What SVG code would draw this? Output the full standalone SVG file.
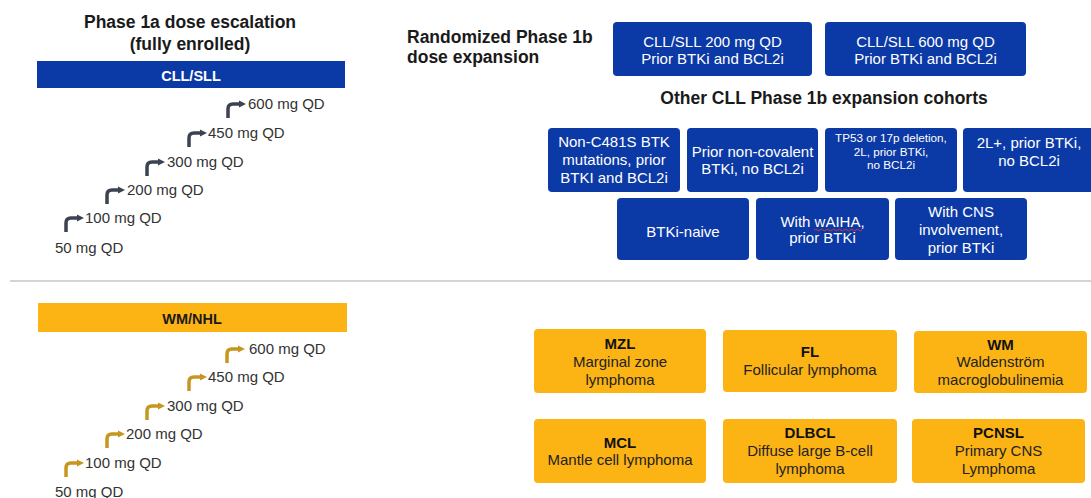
<svg xmlns="http://www.w3.org/2000/svg" width="1091" height="498" viewBox="0 0 1091 498">
<defs>
<marker id="ahd" markerUnits="userSpaceOnUse" markerWidth="8" markerHeight="8" refX="1" refY="4" orient="auto"><path d="M0,0.5 L7,4 L0,7.5 Z" fill="#3b4250"/></marker>
<marker id="ahy" markerUnits="userSpaceOnUse" markerWidth="8" markerHeight="8" refX="1" refY="4" orient="auto"><path d="M0,0.5 L7,4 L0,7.5 Z" fill="#c6961f"/></marker>
</defs>
<style>
text{font-family:"Liberation Sans",Arial,sans-serif;}
.h{font-size:17.5px;font-weight:bold;fill:#1a1a1a;}
.bar{font-size:14.5px;font-weight:bold;text-anchor:middle;}
.dose{font-size:15px;fill:#333;}
.blue{fill:#0b39a6;}
.yel{fill:#fcb314;}
.wt{font-size:15px;fill:#fff;text-anchor:middle;}
.wts{font-size:11.7px;fill:#fff;text-anchor:middle;}
.yt{font-size:15px;fill:#222;text-anchor:middle;}
.yb{font-size:15px;font-weight:bold;fill:#111;text-anchor:middle;}
.ad{fill:none;stroke:#3b4250;stroke-width:3.5;marker-end:url(#ahd);}
.ay{fill:none;stroke:#c6961f;stroke-width:3.5;marker-end:url(#ahy);}
</style>
<rect width="1091" height="498" fill="#fff"/>

<g id="titles">
<text class="h" x="190" y="28" text-anchor="middle">Phase 1a dose escalation</text>
<text class="h" x="190" y="50" text-anchor="middle">(fully enrolled)</text>
<text class="h" x="407" y="43">Randomized Phase 1b</text>
<text class="h" x="407" y="63">dose expansion</text>
<text class="h" x="824" y="104" text-anchor="middle">Other CLL Phase 1b expansion cohorts</text>
</g>

<line id="divider" x1="10" y1="281" x2="1091" y2="281" stroke="#d4d4d4" stroke-width="2"/>

<g id="bar-cll"><rect x="37" y="61" width="308" height="27" class="blue"/><text class="bar" x="191" y="81" fill="#fff">CLL/SLL</text></g>
<g id="bar-wm"><rect x="38" y="303" width="309" height="29" class="yel"/><text class="bar" x="192" y="324" fill="#1a1a1a">WM/NHL</text></g>

<g id="dose-cll">
<text class="dose" x="55" y="253">50 mg QD</text>
<text class="dose" x="85" y="223">100 mg QD</text>
<text class="dose" x="127" y="195">200 mg QD</text>
<text class="dose" x="167" y="167">300 mg QD</text>
<text class="dose" x="208" y="138">450 mg QD</text>
<text class="dose" x="248" y="109">600 mg QD</text>
</g>
<g id="dose-wm">
<text class="dose" x="55" y="497">50 mg QD</text>
<text class="dose" x="85" y="468">100 mg QD</text>
<text class="dose" x="126" y="439">200 mg QD</text>
<text class="dose" x="167" y="411">300 mg QD</text>
<text class="dose" x="208" y="382">450 mg QD</text>
<text class="dose" x="249" y="354">600 mg QD</text>
</g>

<g id="connectors">
<path class="ad" d="M66,232 V223 Q66,218 71,218 H78"/>
<path class="ad" d="M107,204 V195 Q107,190 112,190 H119"/>
<path class="ad" d="M147,176 V167 Q147,162 152,162 H159"/>
<path class="ad" d="M189,147 V138 Q189,133 194,133 H201"/>
<path class="ad" d="M228,118 V109 Q228,104 233,104 H240"/>
<path class="ay" d="M66,477 V468 Q66,463 71,463 H78"/>
<path class="ay" d="M107,448 V439 Q107,434 112,434 H119"/>
<path class="ay" d="M147,420 V411 Q147,406 152,406 H159"/>
<path class="ay" d="M189,391 V382 Q189,377 194,377 H201"/>
<path class="ay" d="M227,363 V354 Q227,349 232,349 H239"/>
</g>

<g id="rand-200"><rect x="613" y="22" width="199" height="54" rx="4" class="blue"/><text class="wt" x="712.5" y="47">CLL/SLL 200 mg QD</text><text class="wt" x="712.5" y="64">Prior BTKi and BCL2i</text></g>
<g id="rand-600"><rect x="825" y="22" width="201" height="54" rx="4" class="blue"/><text class="wt" x="925.5" y="47">CLL/SLL 600 mg QD</text><text class="wt" x="925.5" y="64">Prior BTKi and BCL2i</text></g>

<g id="c-nonc481s"><rect x="548" y="128" width="132" height="64" rx="4" class="blue"/><text class="wt" x="614" y="147">Non-C481S BTK</text><text class="wt" x="614" y="165">mutations, prior</text><text class="wt" x="614" y="183">BTKI and BCL2i</text></g>
<g id="c-noncov"><rect x="687" y="128" width="131" height="64" rx="4" class="blue"/><text class="wt" x="752.5" y="157">Prior non-covalent</text><text class="wt" x="752.5" y="174">BTKi, no BCL2i</text></g>
<g id="c-tp53"><rect x="825" y="128" width="132" height="64" rx="4" class="blue"/><text class="wts" x="891" y="142">TP53 or 17p deletion,</text><text class="wts" x="891" y="156">2L, prior BTKi,</text><text class="wts" x="891" y="169">no BCL2i</text></g>
<g id="c-2lplus"><rect x="963" y="128" width="134" height="64" rx="4" class="blue"/><text class="wt" x="1029" y="148">2L+, prior BTKi,</text><text class="wt" x="1029" y="166">no BCL2i</text></g>
<g id="c-naive"><rect x="617" y="198" width="132" height="62" rx="4" class="blue"/><text class="wt" x="683" y="237">BTKi-naive</text></g>
<g id="c-waiha"><rect x="756" y="198" width="133" height="62" rx="4" class="blue"/><text class="wt" x="822.5" y="227">With wAIHA,</text><text class="wt" x="822.5" y="243">prior BTKi</text><path d="M814,230 q1.5,-1.5 3,0 t3,0 t3,0 t3,0 t3,0 t3,0 t3,0 t3,0 t3,0 t3,0 t3,0 t3,0 t3,0 t3,0 t3,0 t3,0" fill="none" stroke="#d33" stroke-width="1"/></g>
<g id="c-cns"><rect x="895" y="198" width="132" height="62" rx="4" class="blue"/><text class="wt" x="961" y="217">With CNS</text><text class="wt" x="961" y="235">involvement,</text><text class="wt" x="961" y="253">prior BTKi</text></g>

<g id="y-mzl"><rect x="534" y="329" width="172" height="64" rx="4" class="yel"/><text class="yb" x="620" y="349">MZL</text><text class="yt" x="620" y="367">Marginal zone</text><text class="yt" x="620" y="385">lymphoma</text></g>
<g id="y-fl"><rect x="723" y="330" width="174" height="62" rx="4" class="yel"/><text class="yb" x="810" y="357">FL</text><text class="yt" x="810" y="375">Follicular lymphoma</text></g>
<g id="y-wm"><rect x="914" y="331" width="173" height="62" rx="4" class="yel"/><text class="yb" x="1000.5" y="350">WM</text><text class="yt" x="1000.5" y="367">Waldenström</text><text class="yt" x="1000.5" y="385">macroglobulinemia</text></g>
<g id="y-mcl"><rect x="534" y="419" width="172" height="64" rx="4" class="yel"/><text class="yb" x="620" y="448">MCL</text><text class="yt" x="620" y="465">Mantle cell lymphoma</text></g>
<g id="y-dlbcl"><rect x="723" y="419" width="174" height="64" rx="4" class="yel"/><text class="yb" x="810" y="438">DLBCL</text><text class="yt" x="810" y="456">Diffuse large B-cell</text><text class="yt" x="810" y="474">lymphoma</text></g>
<g id="y-pcnsl"><rect x="912" y="419" width="173" height="64" rx="4" class="yel"/><text class="yb" x="998.5" y="438">PCNSL</text><text class="yt" x="998.5" y="456">Primary CNS</text><text class="yt" x="998.5" y="474">Lymphoma</text></g>
</svg>
